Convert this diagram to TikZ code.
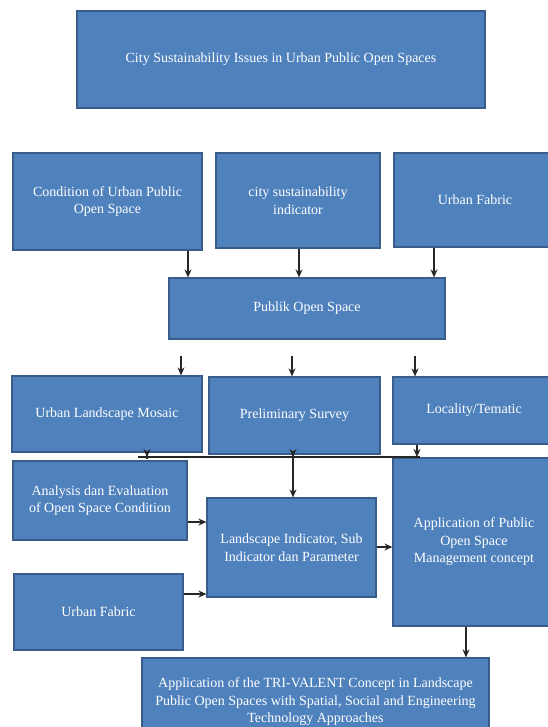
\documentclass[tikz,border=0pt]{standalone}
\usepackage{fontspec}
\setmainfont{Liberation Serif}
\usetikzlibrary{arrows.meta,calc}
\definecolor{boxfill}{HTML}{4F81BD}
\definecolor{boxline}{HTML}{385D8A}
\definecolor{arrowc}{HTML}{262626}
\begin{document}
\begin{tikzpicture}[x=1pt,y=-1pt,
  box/.style={draw=boxline, line width=1.2pt, fill=boxfill, text=white, align=center, inner sep=2pt,
    font=\fontsize{14}{17.5}\selectfont},
  arr/.style={draw=arrowc, line width=1.4pt, -{Stealth[length=8pt,width=7pt]}},
  busline/.style={draw=arrowc, line width=1.4pt}
]
\useasboundingbox[fill=white] (0,0) rectangle (547,727);

\node[box, minimum width=408pt, minimum height=97pt] (top) at (281,59.5) {City Sustainability Issues in Urban Public Open Spaces};

\node[box, minimum width=189pt, minimum height=97pt] (cond) at (107.5,201.5) {Condition of Urban Public\\Open Space};
\node[box, minimum width=164pt, minimum height=95pt] (ind) at (298,200.5) {city sustainability\\indicator};
\node[box, minimum width=162pt, minimum height=94pt] (fab) at (475,200) {Urban Fabric};

\node[box, minimum width=276pt, minimum height=61pt] (pub) at (307,308.5) {Publik Open Space};

\node[box, minimum width=190pt, minimum height=76pt] (ulm) at (107,414) {Urban Landscape Mosaic};
\node[box, minimum width=171pt, minimum height=77pt] (ps) at (294.5,415.5) {Preliminary Survey};
\node[box, minimum width=162pt, minimum height=67pt] (loc) at (474,410.5) {Locality/Tematic};

\node[box, minimum width=174pt, minimum height=79pt] (ana) at (100,500.5) {Analysis dan Evaluation\\of Open Space Condition};
\node[box, minimum width=169pt, minimum height=99pt] (li) at (291.5,547.5) {Landscape Indicator, Sub\\Indicator dan Parameter};
\node[box, minimum width=162pt, minimum height=168pt] (app) at (474,542) {Application of Public\\Open Space\\Management concept};
\node[box, minimum width=169pt, minimum height=76pt] (uf2) at (98.5,612) {Urban Fabric};

\node[box, minimum width=347pt, minimum height=88pt] (bot) at (315.5,702) {Application of the TRI-VALENT Concept in Landscape\\Public Open Spaces with Spatial, Social and Engineering\\Technology Approaches};

% arrows into Publik Open Space
\draw[arr] (188,0 |- cond.south) -- (188,0 |- pub.north);
\draw[arr] (299,0 |- ind.south) -- (299,0 |- pub.north);
\draw[arr] (434,0 |- fab.south) -- (434,0 |- pub.north);

% arrows out of Publik Open Space
\draw[arr, shorten <=16pt] (181,0 |- pub.south) -- (181,0 |- ulm.north);
\draw[arr, shorten <=16pt] (292,0 |- pub.south) -- (292,0 |- ps.north);
\draw[arr, shorten <=16pt] (415,0 |- pub.south) -- (415,0 |- loc.north);

% bus line
\coordinate (busL) at (138,457);
\coordinate (busR) at (420,457);
\coordinate (b1) at (147,457);
\coordinate (b2) at (293,457);
\coordinate (b3) at (417,457);
\draw[busline] (busL) -- (busR);
\draw[arr, shorten <=-6pt] (ulm.south -| b1) -- (b1);
\draw[arr, shorten <=-6pt] (ps.south -| b2) -- (b2);
\draw[arr] (loc.south -| b3) -- (b3);
\draw[arr] (b2) -- (li.north -| b2);

% into landscape indicator and beyond
\draw[arr] (ana.east |- 0,522) -- (li.west |- 0,522);
\draw[arr] (uf2.east |- 0,594) -- (li.west |- 0,594);
\draw[arr] (li.east |- 0,547) -- (app.west |- 0,547);
\draw[arr] (466,0 |- app.south) -- (466,0 |- bot.north);
\end{tikzpicture}
\end{document}
